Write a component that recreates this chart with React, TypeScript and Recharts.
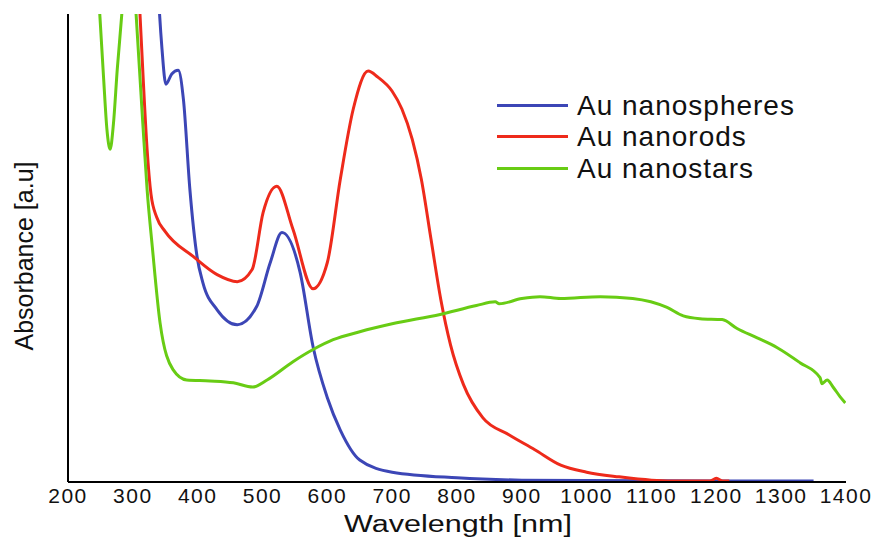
import { LineChart, Line, XAxis, YAxis, Label } from "recharts";

const xTicks = [200, 300, 400, 500, 600, 700, 800, 900, 1000, 1100, 1200, 1300, 1400];

const sphereNm = [336, 340, 345, 351, 360, 370, 378, 388, 399, 408, 430, 461, 491, 512, 530, 558, 578, 600, 620, 650, 700, 800, 900, 1000, 1200, 1350];
const sphereAbs = [1.15, 1.03, 0.925, 0.85, 0.872, 0.88, 0.818, 0.625, 0.482, 0.426, 0.368, 0.336, 0.375, 0.469, 0.533, 0.448, 0.289, 0.18, 0.111, 0.047, 0.021, 0.009, 0.004, 0.003, 0.002, 0.002];

const rodNm = [302, 311, 316, 322, 328, 337, 350, 393, 430, 461, 484, 501, 522, 547, 578, 600, 620, 640, 663, 678, 700, 715, 731, 745, 760, 775, 790, 810, 840, 880, 920, 960, 1000, 1050, 1100, 1150, 1190, 1200, 1210, 1220];
const rodAbs = [1.2, 1.0, 0.861, 0.711, 0.615, 0.565, 0.535, 0.482, 0.443, 0.428, 0.454, 0.576, 0.632, 0.54, 0.413, 0.469, 0.647, 0.797, 0.878, 0.865, 0.835, 0.797, 0.732, 0.647, 0.518, 0.39, 0.293, 0.208, 0.137, 0.101, 0.069, 0.036, 0.021, 0.011, 0.004, 0.002, 0.002, 0.008, 0.002, 0.002];

const starNm = [244, 249, 255, 260, 265, 270, 276, 283, 288, 295, 300, 305, 315, 322, 330, 342, 362, 383, 419, 455, 485, 507, 547, 578, 609, 650, 700, 774, 830, 859, 865, 900, 928, 960, 1021, 1071, 1124, 1149, 1175, 1209, 1232, 1263, 1294, 1329, 1360, 1363, 1371, 1380, 1391, 1399];
const starAbs = [1.12, 1.0, 0.861, 0.754, 0.711, 0.764, 0.882, 1.0, 1.1, 1.25, 1.12, 1.0, 0.775, 0.625, 0.503, 0.34, 0.24, 0.218, 0.216, 0.212, 0.203, 0.218, 0.257, 0.283, 0.304, 0.321, 0.338, 0.358, 0.377, 0.385, 0.381, 0.392, 0.396, 0.392, 0.396, 0.392, 0.373, 0.355, 0.349, 0.347, 0.328, 0.308, 0.287, 0.255, 0.223, 0.21, 0.218, 0.203, 0.182, 0.169];

const seriesNames = ["Au nanospheres", "Au nanorods", "Au nanostars"];
const seriesColors = ["#3c46b6", "#ee2a1b", "#68cc14"];

const toPoints = (nm: number[], abs: number[]) => nm.map((n, i) => ({ nm: n, abs: abs[i] }));

const font = "'Liberation Sans', Arial, sans-serif";

function LegendBox() {
  return (
    <div style={{ position: "absolute", left: 497, top: 89.6, fontFamily: font }}>
      {seriesNames.map((name, i) => (
        <div key={name} style={{ display: "flex", alignItems: "center", height: 31.5 }}>
          <div style={{ width: 71, height: 3, background: seriesColors[i], marginRight: 9 }} />
          <span style={{ fontSize: 28, lineHeight: "31.5px", letterSpacing: 1, color: "#111", whiteSpace: "nowrap" }}>{name}</span>
        </div>
      ))}
    </div>
  );
}

export default function App() {
  const lines = [toPoints(sphereNm, sphereAbs), toPoints(rodNm, rodAbs), toPoints(starNm, starAbs)];
  return (
    <div style={{ position: "absolute", left: 0, top: 0, width: 875, height: 537, background: "#fff" }}>
      <LineChart width={875} height={537} margin={{ top: 14, right: 29, bottom: 0, left: 0 }}>
        <XAxis
          dataKey="nm"
          type="number"
          domain={[200, 1400]}
          ticks={xTicks}
          allowDataOverflow
          height={55}
          tickLine={false}
          axisLine={{ stroke: "#000", strokeWidth: 2 }}
          tick={{ fontSize: 21, fill: "#111", fontFamily: font, letterSpacing: 1.5 }}
          tickMargin={0}
        >
          <Label
            content={() => (
              <text x={458} y={532} textAnchor="middle" fontSize={23} fontFamily={font} fill="#111" textLength={228} lengthAdjust="spacingAndGlyphs">
                Wavelength [nm]
              </text>
            )}
          />
        </XAxis>
        <YAxis
          type="number"
          domain={[0, 1]}
          allowDataOverflow
          width={68}
          tick={false}
          tickLine={false}
          axisLine={{ stroke: "#000", strokeWidth: 2 }}
        >
          <Label
            content={() => (
              <text x={33} y={256} textAnchor="middle" fontSize={25} fontFamily={font} fill="#111" transform="rotate(-90, 33, 256)">
                Absorbance [a.u]
              </text>
            )}
          />
        </YAxis>
        {lines.map((d, i) => (
          <Line
            key={seriesNames[i]}
            data={d}
            dataKey="abs"
            name={seriesNames[i]}
            type="monotone"
            stroke={seriesColors[i]}
            strokeWidth={3}
            dot={false}
            isAnimationActive={false}
          />
        ))}
      </LineChart>
      <LegendBox />
    </div>
  );
}
